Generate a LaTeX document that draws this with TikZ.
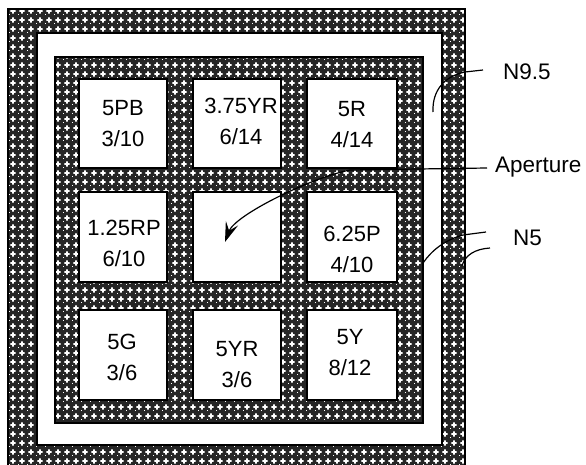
\documentclass[tikz,border=0pt]{standalone}
\usepackage{fontspec}
\setmainfont{Liberation Sans}
\usetikzlibrary{patterns.meta,arrows.meta}
\tikzdeclarepattern{
  name=plusgrid,
  type=uncolored,
  bounding box={(0pt,0pt) and (9pt,9pt)},
  tile size={(9pt,9pt)},
  code={
    \pgfpathrectangle{\pgfpoint{1.6pt}{3.6pt}}{\pgfpoint{5.8pt}{1.8pt}}
    \pgfpathrectangle{\pgfpoint{3.6pt}{1.6pt}}{\pgfpoint{1.8pt}{5.8pt}}
    \pgfusepath{fill}
    \pgfpathrectangle{\pgfpoint{0pt}{0pt}}{\pgfpoint{1.1pt}{1.1pt}}
    \pgfusepath{fill}
  }
}
\tikzset{
  hatchfill/.style={fill=black!85},
  hatchdots/.style={pattern=plusgrid, pattern color=white},
  edge/.style={draw=black, line width=1.4pt},
  chip/.style={fill=white, draw=black, line width=1.4pt},
  chiplabel/.style={align=center, inner sep=0pt, font=\fontsize{22}{31}\selectfont},
  sidelabel/.style={anchor=base west, inner sep=0pt, font=\fontsize{22.5}{27}\selectfont},
  leader/.style={draw=black, line width=1.2pt},
}
\begin{document}
\begin{tikzpicture}[x=1pt,y=-1pt]
\useasboundingbox (0,0) rectangle (586,465);
\fill[white] (0,0) rectangle (586,465);
% outer band
\begin{scope}
\clip (0,0) rectangle (586,465);
\fill[hatchfill,even odd rule] (8,9) rectangle (465,470) (37,33) rectangle (442,445);
\fill[hatchdots,even odd rule] (8,9) rectangle (465,470) (37,33) rectangle (442,445);
\draw[edge] (8,9) rectangle (465,470);
\draw[edge] (37,33) rectangle (442,445);
\end{scope}
% inner square
\fill[hatchfill] (55,57) rectangle (423,423);
\fill[hatchdots] (55,57) rectangle (423,423);
\draw[edge] (55,57) rectangle (423,423);
% chips
\foreach \xa/\xb in {79/167,193/281,307/397}{
  \foreach \ya/\yb in {79/168,192/282,310/400}{
    \filldraw[chip] (\xa,\ya) rectangle (\xb,\yb);
  }
}
% chip labels
\node[chiplabel] (c11) at (123,124) {5PB\\3/10};
\node[chiplabel] (c12) at (241,121) {3.75YR\\6/14};
\node[chiplabel] (c13) at (352,125) {5R\\4/14};
\node[chiplabel] (c21) at (124,243) {1.25RP\\6/10};
\node[chiplabel] (c23) at (352,249) {6.25P\\4/10};
\node[chiplabel] (c31) at (122,357) {5G\\3/6};
\node[chiplabel] (c32) at (237,365) {5YR\\3/6};
\node[chiplabel] (c33) at (350,353) {5Y\\8/12};
% side labels
\node[sidelabel] (n95) at (503,80) {N9.5};
\node[sidelabel] (apt) at (495,173) {Aperture};
\node[sidelabel] (n5) at (513,245) {N5};
% leader coordinates
\coordinate (n95a) at (483,70);
\coordinate (n95b) at (465,72);
\coordinate (n95c) at (433,112);
\coordinate (apta) at (487,168);
\coordinate (aptb) at (350,170);
\coordinate (aptc) at (225,242);
\coordinate (n5a) at (486,232);
\coordinate (n5b) at (463,235);
\coordinate (n5c) at (423,263);
\coordinate (n5d) at (490,248);
\coordinate (n5e) at (462,266);
% leaders
\draw[leader] (n95a) -- (n95b) .. controls (445,76) and (432,90) .. (n95c);
\draw[leader,-{Stealth[length=20pt,width=13pt,inset=8pt]}] (apta) -- (aptb) .. controls (310,178) and (235,215) .. (aptc);
\draw[leader] (n5a) -- (n5b) .. controls (445,240) and (432,250) .. (n5c);
\draw[leader] (n5d) .. controls (475,249) and (465,255) .. (n5e);
\end{tikzpicture}
\end{document}
